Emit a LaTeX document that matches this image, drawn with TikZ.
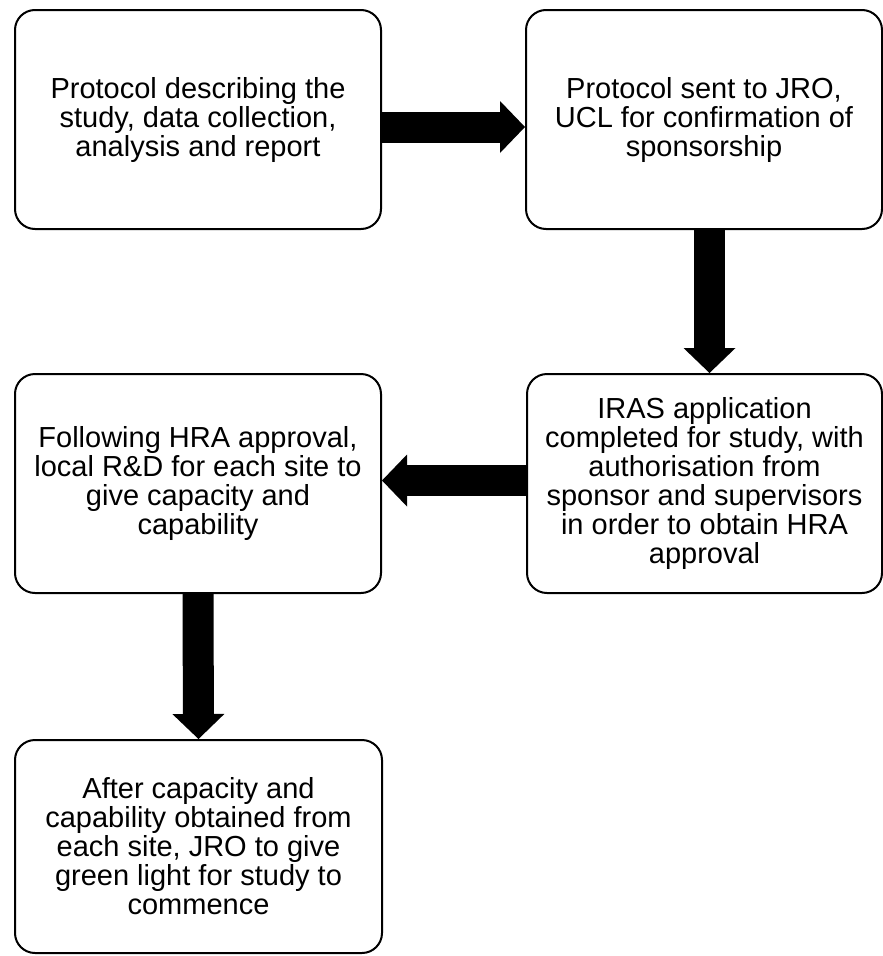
\documentclass[tikz,border=0pt]{standalone}
\usepackage{fontspec}
\setmainfont{Liberation Sans}
\usetikzlibrary{arrows.meta}
\tikzset{>=Triangle}
\tikzset{
  stagebox/.style={draw, line width=2pt, rounded corners=20pt, align=center, inner sep=0pt,
    font=\fontsize{29}{29}\selectfont},
  fatarrow/.style={line width=31pt, -{Triangle[width=52pt, length=25pt, line width=0pt]}}
}

\begin{document}
\begin{tikzpicture}[x=1pt, y=-1pt]
    \useasboundingbox (0,0) rectangle (883,956);
    \node[stagebox, minimum width=366pt, minimum height=219pt] (protocol) at (198,119.5)
        {Protocol describing the\\study, data collection,\\analysis and report};
    \node[stagebox, minimum width=356pt, minimum height=219pt] (sponsorship) at (704,119.5)
        {Protocol sent to JRO,\\UCL for confirmation of\\sponsorship};
    \node[stagebox, minimum width=355pt, minimum height=219pt] (iras) at (704.5,483.5)
        {IRAS application\\completed for study, with\\authorisation from\\sponsor and supervisors\\in order to obtain HRA\\approval};
    \node[stagebox, minimum width=366pt, minimum height=219pt] (localrd) at (198,483.5)
        {Following HRA approval,\\local R\&D for each site to\\give capacity and\\capability};
    \node[stagebox, minimum width=367pt, minimum height=213pt] (commence) at (198.5,846.5)
        {After capacity and\\capability obtained from\\each site, JRO to give\\green light for study to\\commence};
    \draw[fatarrow] ([yshift=-7.5pt]protocol.east) -- ([yshift=-7.5pt]sponsorship.west);
    \draw[fatarrow] ([xshift=5.5pt]sponsorship.south) -- ([xshift=5pt]iras.north);
    \draw[fatarrow] ([yshift=3pt]iras.west) -- ([yshift=3pt]localrd.east);
    \draw[fatarrow] (localrd.south) -- (commence.north);
\end{tikzpicture}
\end{document}
